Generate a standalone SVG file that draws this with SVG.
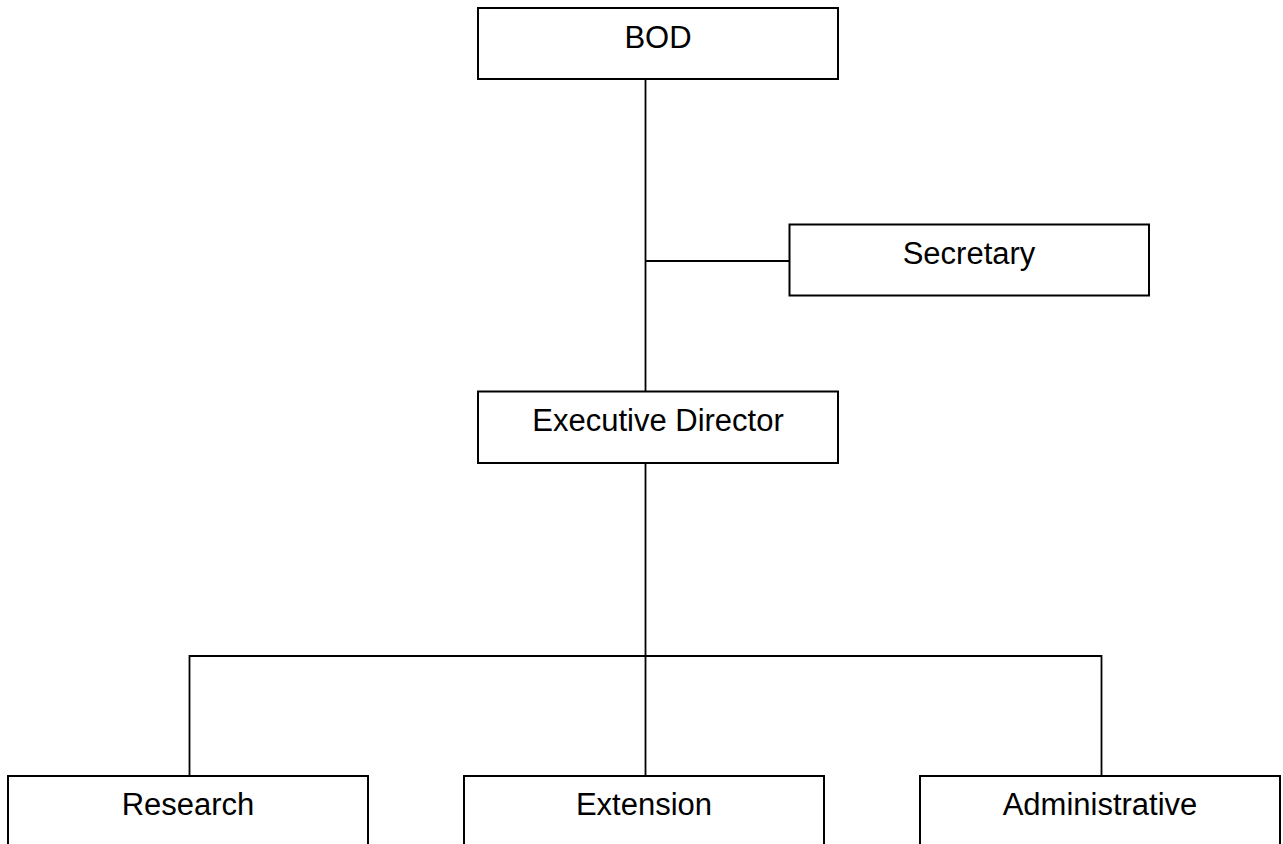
<svg xmlns="http://www.w3.org/2000/svg" width="1283" height="844" viewBox="0 0 1283 844">
<style>
.box{fill:#fff;stroke:#000;stroke-width:2}
.lbl{font-family:"Liberation Sans",Arial,sans-serif;font-size:31px;fill:#000;text-anchor:middle}
.conn{stroke:#000;stroke-width:1.8;fill:none}
</style>
<rect width="1283" height="844" fill="#fff"/>
<g id="connectors">
<line class="conn" x1="645.5" y1="79" x2="645.5" y2="391"/>
<line class="conn" x1="645.5" y1="261" x2="789.5" y2="261"/>
<line class="conn" x1="645.5" y1="463" x2="645.5" y2="776"/>
<polyline class="conn" points="189.5,776 189.5,656 1101.5,656 1101.5,776"/>
</g>
<g id="bod">
<rect class="box" x="478" y="8" width="360" height="71"/>
<text class="lbl" x="658" y="48">BOD</text>
</g>
<g id="secretary">
<rect class="box" x="789.5" y="224.5" width="359.5" height="71"/>
<text class="lbl" x="969" y="264">Secretary</text>
</g>
<g id="executive-director">
<rect class="box" x="478" y="391.5" width="360" height="71.5"/>
<text class="lbl" x="658" y="431">Executive Director</text>
</g>
<g id="research">
<rect class="box" x="8" y="776" width="360" height="90"/>
<text class="lbl" x="188" y="815">Research</text>
</g>
<g id="extension">
<rect class="box" x="464" y="776" width="360" height="90"/>
<text class="lbl" x="644" y="815">Extension</text>
</g>
<g id="administrative">
<rect class="box" x="920" y="776" width="360" height="90"/>
<text class="lbl" x="1100" y="815">Administrative</text>
</g>
</svg>
